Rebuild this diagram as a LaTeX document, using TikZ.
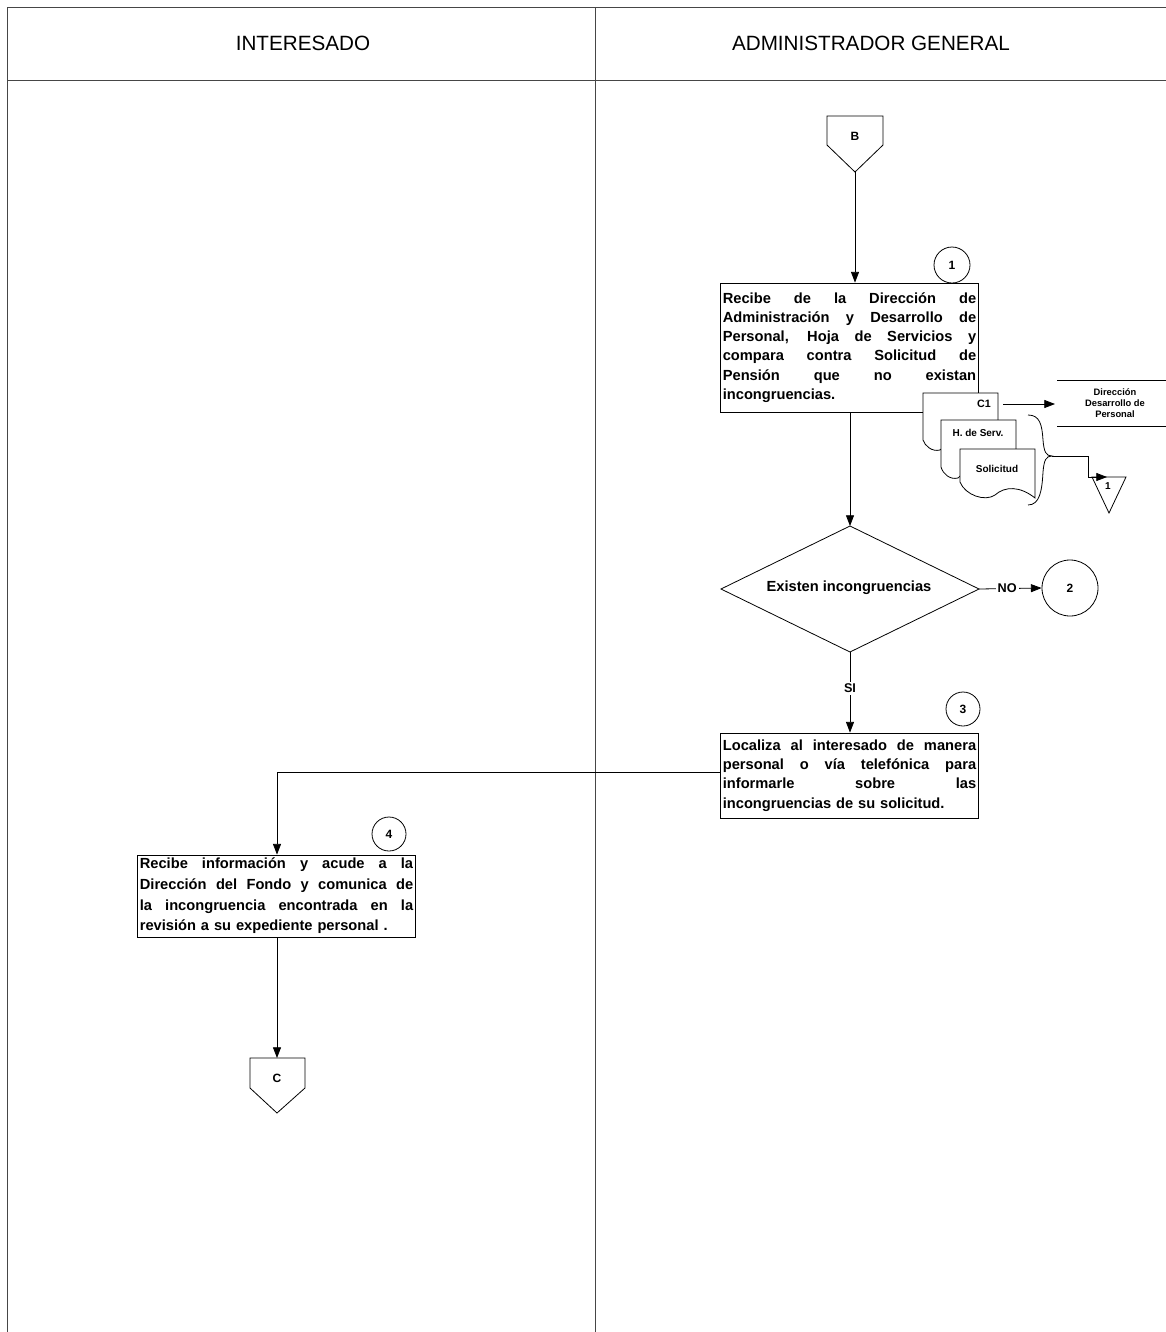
\documentclass[tikz,border=0pt]{standalone}
\usepackage{fontspec}
\setmainfont{Liberation Sans}
\usetikzlibrary{arrows.meta,shapes.geometric}
\definecolor{frame}{RGB}{70,70,70}
\tikzset{
  arr/.style={-{Triangle[length=8pt,width=6pt]}},
  ln/.style={draw=black,line width=0.6pt},
  procbox/.style={draw=black,line width=0.6pt,fill=white,inner sep=2pt,font=\bfseries\fontsize{11}{14.4}\selectfont,align=left},
  stepcirc/.style={draw=black,line width=0.6pt,circle,inner sep=0pt,font=\bfseries\small},
  lbl/.style={font=\bfseries\fontsize{9.5}{10}\selectfont,fill=white,inner sep=1.5pt},
  docshape/.style={draw=black,line width=0.6pt,fill=white},
  hdr/.style={font=\fontsize{15.5}{18}\selectfont}
}
\newcommand{\jl}[2]{\leavevmode\hbox to #1{\spaceskip=0.3em plus 1fil\relax #2}}
\begin{document}
\begin{tikzpicture}[x=0.75pt,y=-0.75pt]
\useasboundingbox (0,0) rectangle (1166,1332);
% frame
\draw[frame,line width=0.6pt] (7,7) -- (1166,7);
\draw[frame,line width=0.6pt] (7,80) -- (1166,80);
\draw[frame,line width=0.6pt] (7,7) -- (7,1332);
\draw[frame,line width=0.6pt] (595,7) -- (595,1332);
\node[hdr] (h1) at (303,43) {INTERESADO};
\node[hdr] (h2) at (871,43) {ADMINISTRADOR GENERAL};

% off-page connector B
\draw[ln,fill=white] (827,116) -- (883,116) -- (883,145) -- (855,172) -- (827,145) -- cycle;
\node[font=\bfseries\small] (B) at (855,136) {B};
\coordinate (Btip) at (855,172);

% step 1
\node[stepcirc,minimum size=27pt] (c1) at (952,265) {1};
\node[procbox,text width=190pt,minimum height=96.75pt] (box1) at (849.5,347.5) {%
\jl{190pt}{Recibe de la Dirección de}\\
\jl{190pt}{Administración y Desarrollo de}\\
\jl{190pt}{Personal, Hoja de Servicios y}\\
\jl{190pt}{compara contra Solicitud de}\\
\jl{190pt}{Pensión que no existan}\\
incongruencias.};
\draw[ln,arr] (Btip) -- (Btip |- box1.north);

% documents
\draw[docshape] (923,393) -- (998,393) -- (998,432) .. controls (985,440) and (960,430) .. (940,450) .. controls (932,452) and (925,446) .. (923,440) -- cycle;
\node[font=\bfseries\fontsize{8}{9}\selectfont] (d1) at (984,404) {C1};
\draw[docshape] (941,420) -- (1016,420) -- (1016,460) .. controls (1003,468) and (978,458) .. (958,478) .. controls (950,480) and (943,474) .. (941,467) -- cycle;
\node[font=\bfseries\fontsize{7.5}{9}\selectfont] (d2) at (978,433) {H. de Serv.};
\draw[docshape] (960,449) -- (1035,449) -- (1035,498) .. controls (1020,486) and (1005,486) .. (995,495) .. controls (985,502) and (965,495) .. (960,482) -- cycle;
\node[font=\bfseries\fontsize{7.5}{9}\selectfont] (d3) at (997,469) {Solicitud};

% destination
\coordinate (dl1) at (1057,380);
\coordinate (dl2) at (1166,380);
\coordinate (dl3) at (1057,426);
\coordinate (dl4) at (1166,426);
\draw[ln] (dl1) -- (dl2);
\draw[ln] (dl3) -- (dl4);
\node[font=\bfseries\fontsize{7}{8.5}\selectfont,align=center] (dest) at (1115,403) {Dirección\\Desarrollo de\\Personal};
\coordinate (d1r) at (1003,404);
\coordinate (destl) at (1055,404);
\draw[ln,arr] (d1r) -- (destl);

% brace and archive
\coordinate (brt) at (1028,415);
\coordinate (brb) at (1028,505);
\coordinate (brtip) at (1052,456);
\draw[ln] (brt) .. controls (1040,415) and (1042,425) .. (1043,440) .. controls (1044,452) and (1046,456) .. (brtip)
          .. controls (1046,456) and (1044,460) .. (1043,472) .. controls (1042,490) and (1040,505) .. (brb);
\draw[ln,fill=white] (1092,477) -- (1126,477) -- (1109,513) -- cycle;
\node[font=\bfseries\fontsize{7.5}{9}\selectfont] (arch) at (1108,486) {1};
\coordinate (Ttop) at (1107,477);
\draw[ln,arr] (brtip) -- (1088,456) -- (1088,477) -- (Ttop);

% decision
\coordinate (decN) at (850,526);
\coordinate (decS) at (850,652);
\coordinate (decE) at (979,589);
\coordinate (decW) at (721,589);
\draw[ln] (decN) -- (decE) -- (decS) -- (decW) -- cycle;
\node[font=\bfseries\fontsize{11}{12}\selectfont] (dec) at (849,588) {Existen incongruencias};
\draw[ln,arr] (box1.south -| decN) -- (decN);
\node[stepcirc,minimum size=42pt] (c2) at (1070,588) {2};
\draw[ln,arr] (decE) -- node[lbl,pos=0.45] {NO} (c2.west);

% step 3
\node[stepcirc,minimum size=25.5pt] (c3) at (963,709) {3};
\node[procbox,text width=190pt,minimum height=63.75pt,font=\bfseries\fontsize{11}{14.5}\selectfont] (box3) at (849.5,775.5) {%
\jl{190pt}{Localiza al interesado de manera}\\
\jl{190pt}{personal o vía telefónica para}\\
\jl{190pt}{informarle sobre las}\\
incongruencias de su solicitud.};
\draw[ln,arr] (decS) -- node[lbl,pos=0.45] {SI} (decS |- box3.north);

% step 4
\node[stepcirc,minimum size=25.5pt] (c4) at (389,834) {4};
\node[procbox,text width=205pt,minimum height=61.5pt,font=\bfseries\fontsize{11}{15.5}\selectfont] (box4) at (276.5,896) {%
\jl{205pt}{Recibe información y acude a la}\\
\jl{205pt}{Dirección del Fondo y comunica de}\\
\jl{205pt}{la incongruencia encontrada en la}\\
revisión a su expediente personal .};
\coordinate (Ctop) at (277,1058);
\draw[ln,arr] ([yshift=2.5pt]box3.west) -| (Ctop |- box4.north);

% off-page connector C
\draw[ln,fill=white] (250,1058) -- (305,1058) -- (305,1088) -- (277,1113) -- (250,1088) -- cycle;
\node[font=\bfseries\small] (C) at (277,1078) {C};
\draw[ln,arr] (Ctop |- box4.south) -- (Ctop);
\end{tikzpicture}
\end{document}
